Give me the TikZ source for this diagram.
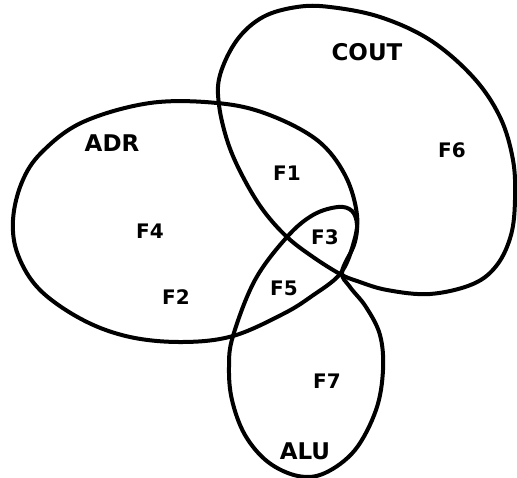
\documentclass[tikz,border=0pt]{standalone}
\usepackage{fontspec}
\setmainfont{DejaVu Sans}
\begin{document}
\begin{tikzpicture}[x=1pt,y=-1pt,
  outline/.style={line width=4pt, line join=round},
  setname/.style={font=\bfseries\fontsize{23}{23}\selectfont, inner sep=0pt},
  region/.style={font=\bfseries\fontsize{20}{20}\selectfont, inner sep=0pt}]
\useasboundingbox (0,0) rectangle (517,478);
% ADR
\draw[outline] plot[smooth cycle, tension=0.6] coordinates {
 (13,220) (22,182) (42,152) (83,122) (150,103) (217,103) (267,114) (317,140)
 (345,175) (357,215) (353,245) (340,274) (312,296) (283,314) (233,336)
 (183,342) (130,337) (83,320) (40,290) (18,255)};
% COUT
\draw[outline] plot[smooth cycle, tension=0.6] coordinates {
 (219,105) (220,75) (237,40) (263,17) (297,7) (330,7) (380,17) (430,40)
 (473,77) (500,117) (513,160) (515,200) (511,235) (497,265) (473,284)
 (430,294) (387,290) (357,281) (340,274) (313,257) (287,237) (263,210)
 (243,177) (228,143)};
% ALU
\draw[outline] plot[smooth cycle, tension=0.6] coordinates {
 (233,336) (255,280) (287,237) (313,215) (338,207) (352,211) (357,225)
 (354,245) (342,272) (350,287) (366,307) (380,335) (383,370) (376,410)
 (355,450) (325,473) (298,476) (268,462) (245,435) (232,400) (229,367)};
\node[setname] (cout) at (367,52) {COUT};
\node[setname] (adr) at (112,143) {ADR};
\node[setname] (alu) at (305,451) {ALU};
\node[region] (f6) at (452,150) {F6};
\node[region] (f1) at (287,173) {F1};
\node[region] (f4) at (150,231) {F4};
\node[region] (f3) at (325,237) {F3};
\node[region] (f5) at (284,288) {F5};
\node[region] (f2) at (176,297) {F2};
\node[region] (f7) at (327,381) {F7};
\end{tikzpicture}
\end{document}
